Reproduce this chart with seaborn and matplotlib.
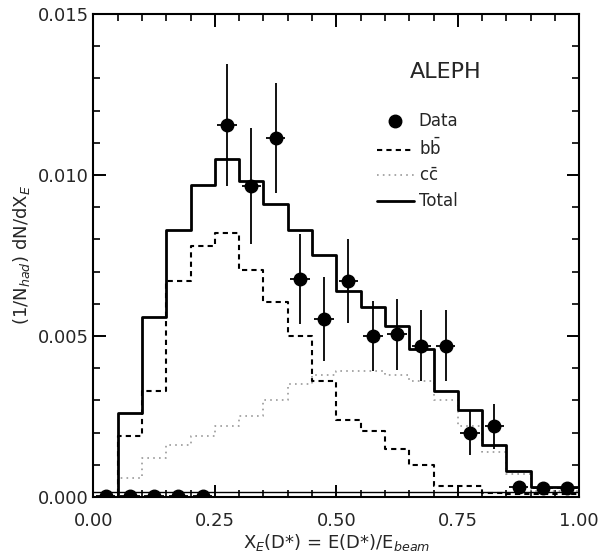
import numpy as np
import seaborn as sns
import matplotlib
matplotlib.use("Agg")
import matplotlib.pyplot as plt
from matplotlib.lines import Line2D
from matplotlib.ticker import MultipleLocator, FormatStrFormatter

# bin edges (x_E bins of width 0.05)
bin_edges = [round(0.05 * i, 2) for i in range(21)]
bin_centers = [round(0.05 * i + 0.025, 3) for i in range(20)]

# Monte Carlo predictions per bin
total_mc = [0.0, 0.0026, 0.0056, 0.0083, 0.0097, 0.0105, 0.0098, 0.0091, 0.0083, 0.0075,
            0.0064, 0.0059, 0.0053, 0.0046, 0.0033, 0.0027, 0.0016, 0.0008, 0.0003, 0.0003]
bb_mc = [0.0, 0.0019, 0.0033, 0.0067, 0.0078, 0.0082, 0.00705, 0.00605, 0.0050, 0.0036,
         0.0024, 0.00205, 0.0015, 0.0010, 0.00035, 0.00034, 0.00012, 0.0001, 0.0001, 0.0001]
cc_mc = [0.0, 0.0006, 0.0012, 0.0016, 0.0019, 0.0022, 0.0025, 0.0030, 0.0035, 0.0038,
         0.0039, 0.0039, 0.0038, 0.0036, 0.0030, 0.0022, 0.0014, 0.0007, 0.0002, 0.0002]

# ALEPH data points
data_y = [0.00002, 0.00002, 0.00002, 0.00002, 0.00002, 0.01155, 0.00966, 0.01115, 0.00677, 0.00553,
          0.0067, 0.0050, 0.00505, 0.0047, 0.0047, 0.0020, 0.0022, 0.0003, 0.00027, 0.00027]
data_err = [0.0, 0.0, 0.0, 0.0, 0.0, 0.0019, 0.0018, 0.0017, 0.0014, 0.0013,
            0.0013, 0.0011, 0.0011, 0.0011, 0.0011, 0.0007, 0.0007, 0.0001, 0.0001, 0.0001]

sns.set_theme(style="ticks")
plt.rcParams["font.family"] = ["DejaVu Sans"]

fig = plt.figure(figsize=(6.11, 5.59), dpi=100)
ax = fig.add_axes([0.153, 0.111, 0.795, 0.864])

# histograms drawn through seaborn's step element
sns.histplot(x=bin_centers, weights=cc_mc, bins=bin_edges, element="step", fill=False,
             color="#9a9a9a", linestyle=(0, (1, 2.5)), linewidth=1.2, ax=ax)
sns.histplot(x=bin_centers, weights=bb_mc, bins=bin_edges, element="step", fill=False,
             color="black", linestyle=(0, (2.5, 2)), linewidth=1.5, ax=ax)
sns.histplot(x=bin_centers, weights=total_mc, bins=bin_edges, element="step", fill=False,
             color="black", linewidth=2.0, ax=ax)

ax.errorbar(bin_centers, data_y, yerr=data_err, xerr=0.02, fmt="o", color="black",
            markersize=9, elinewidth=1.3, capsize=0, zorder=5)
ax.axhline(0.00015, color="black", linewidth=1.0)

ax.set_xlim(0, 1.0)
ax.set_ylim(0, 0.015)
ax.xaxis.set_major_locator(MultipleLocator(0.25))
ax.xaxis.set_minor_locator(MultipleLocator(0.05))
ax.yaxis.set_major_locator(MultipleLocator(0.005))
ax.yaxis.set_minor_locator(MultipleLocator(0.001))
ax.xaxis.set_major_formatter(FormatStrFormatter("%.2f"))
ax.yaxis.set_major_formatter(FormatStrFormatter("%.3f"))
ax.tick_params(which="both", direction="in", top=True, right=True, labelsize=13, color="black")
ax.tick_params(which="major", length=9, width=1.4)
ax.tick_params(which="minor", length=5, width=1.2)
ax.tick_params(axis="x", which="major", pad=11)
for s in ax.spines.values():
    s.set_linewidth(1.5)
    s.set_color("black")

ax.set_xlabel(r"X$_E$(D*) = E(D*)/E$_{beam}$", fontsize=13, labelpad=1)
ax.set_ylabel(r"(1/N$_{had}$) dN/dX$_E$", fontsize=13)

ax.text(0.726, 0.88, "ALEPH", transform=ax.transAxes, fontsize=16, ha="center", va="center")
handles = [
    Line2D([], [], marker="o", color="black", linestyle="none", markersize=9),
    Line2D([], [], color="black", linestyle=(0, (2.5, 2)), linewidth=1.5),
    Line2D([], [], color="#9a9a9a", linestyle=(0, (1, 2.5)), linewidth=1.2),
    Line2D([], [], color="black", linewidth=2.0),
]
labels = ["Data", r"b$\bar{\rm b}$", r"c$\bar{\rm c}$", "Total"]
ax.legend(handles, labels, loc="upper left", bbox_to_anchor=(0.57, 0.81), frameon=False,
          fontsize=12, handlelength=2.2, handletextpad=0.3, labelspacing=0.45,
          borderaxespad=0)

plt.savefig("out.png", dpi=100)
